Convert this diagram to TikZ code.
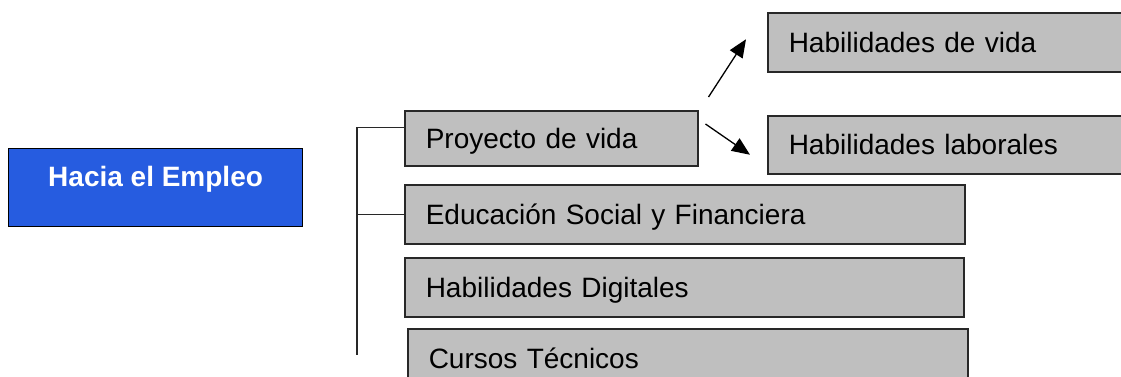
\documentclass[tikz,border=0pt]{standalone}
\usepackage{fontspec}
\setmainfont{Liberation Sans}
\usepackage{xcolor}
\usepackage{tikz}
\usetikzlibrary{arrows.meta, positioning, calc}

\definecolor{empleoblue}{RGB}{38,92,224}
\definecolor{itemgray}{RGB}{191,191,191}
\definecolor{itemline}{RGB}{40,40,40}

\begin{document}
\begin{tikzpicture}[x=1pt, y=-1pt,
        item/.style={draw=itemline, fill=itemgray, line width=1.5pt, anchor=north west, align=left,
            inner xsep=21pt, inner ysep=0pt, text height=20pt, text depth=0pt,
            font=\fontsize{28}{34}\selectfont},
        goal/.style={draw=black, fill=empleoblue, line width=1.2pt, text=white, anchor=north west,
            minimum width=294pt, minimum height=78pt, text height=20pt, text depth=22pt,
            font=\fontsize{28}{34}\selectfont\bfseries},
        tree/.style={draw=itemline, line width=1.4pt},
        link/.style={line width=1.3pt, -{Triangle[length=18pt, width=15pt]}}]

        % Canvas
        \useasboundingbox (0,0) rectangle (1121,376);
        \clip (0,0) rectangle (1121,376);

        % Main box
        \node[goal] (empleo) at (8,148) {Hacia el Empleo};

        % Branches
        \node[item, text width=251pt, minimum height=55pt] (proyecto) at (404,110) {Proyecto de vida};
        \node[item, text width=518pt, minimum height=59pt] (finanzas) at (404,184) {Educación Social y Financiera};
        \node[item, text width=517pt, minimum height=59pt] (digitales) at (404,257) {Habilidades Digitales};
        \node[item, text width=518pt, minimum height=60pt] (cursos) at (407,328) {Cursos Técnicos};

        % Sub-branches of Proyecto de vida
        \node[item, text width=338pt, minimum height=59pt] (vida) at (767,12) {Habilidades de vida};
        \node[item, text width=338pt, minimum height=58pt] (laborales) at (767,115) {Habilidades laborales};

        % Bracket
        \coordinate (trunkend) at (357,355);
        \draw[tree] ([yshift=10.5pt]proyecto.west) -| (trunkend);
        \draw[tree] (finanzas.west) -- (finanzas.west -| trunkend);

        % Arrows
        \draw[link] ([shift={(10,-13)}]proyecto.north east) -- ([shift={(-21,-3)}]vida.west);
        \draw[link] ([shift={(7,14)}]proyecto.north east) -- ([shift={(-17,10)}]laborales.west);

    \end{tikzpicture}
\end{document}
